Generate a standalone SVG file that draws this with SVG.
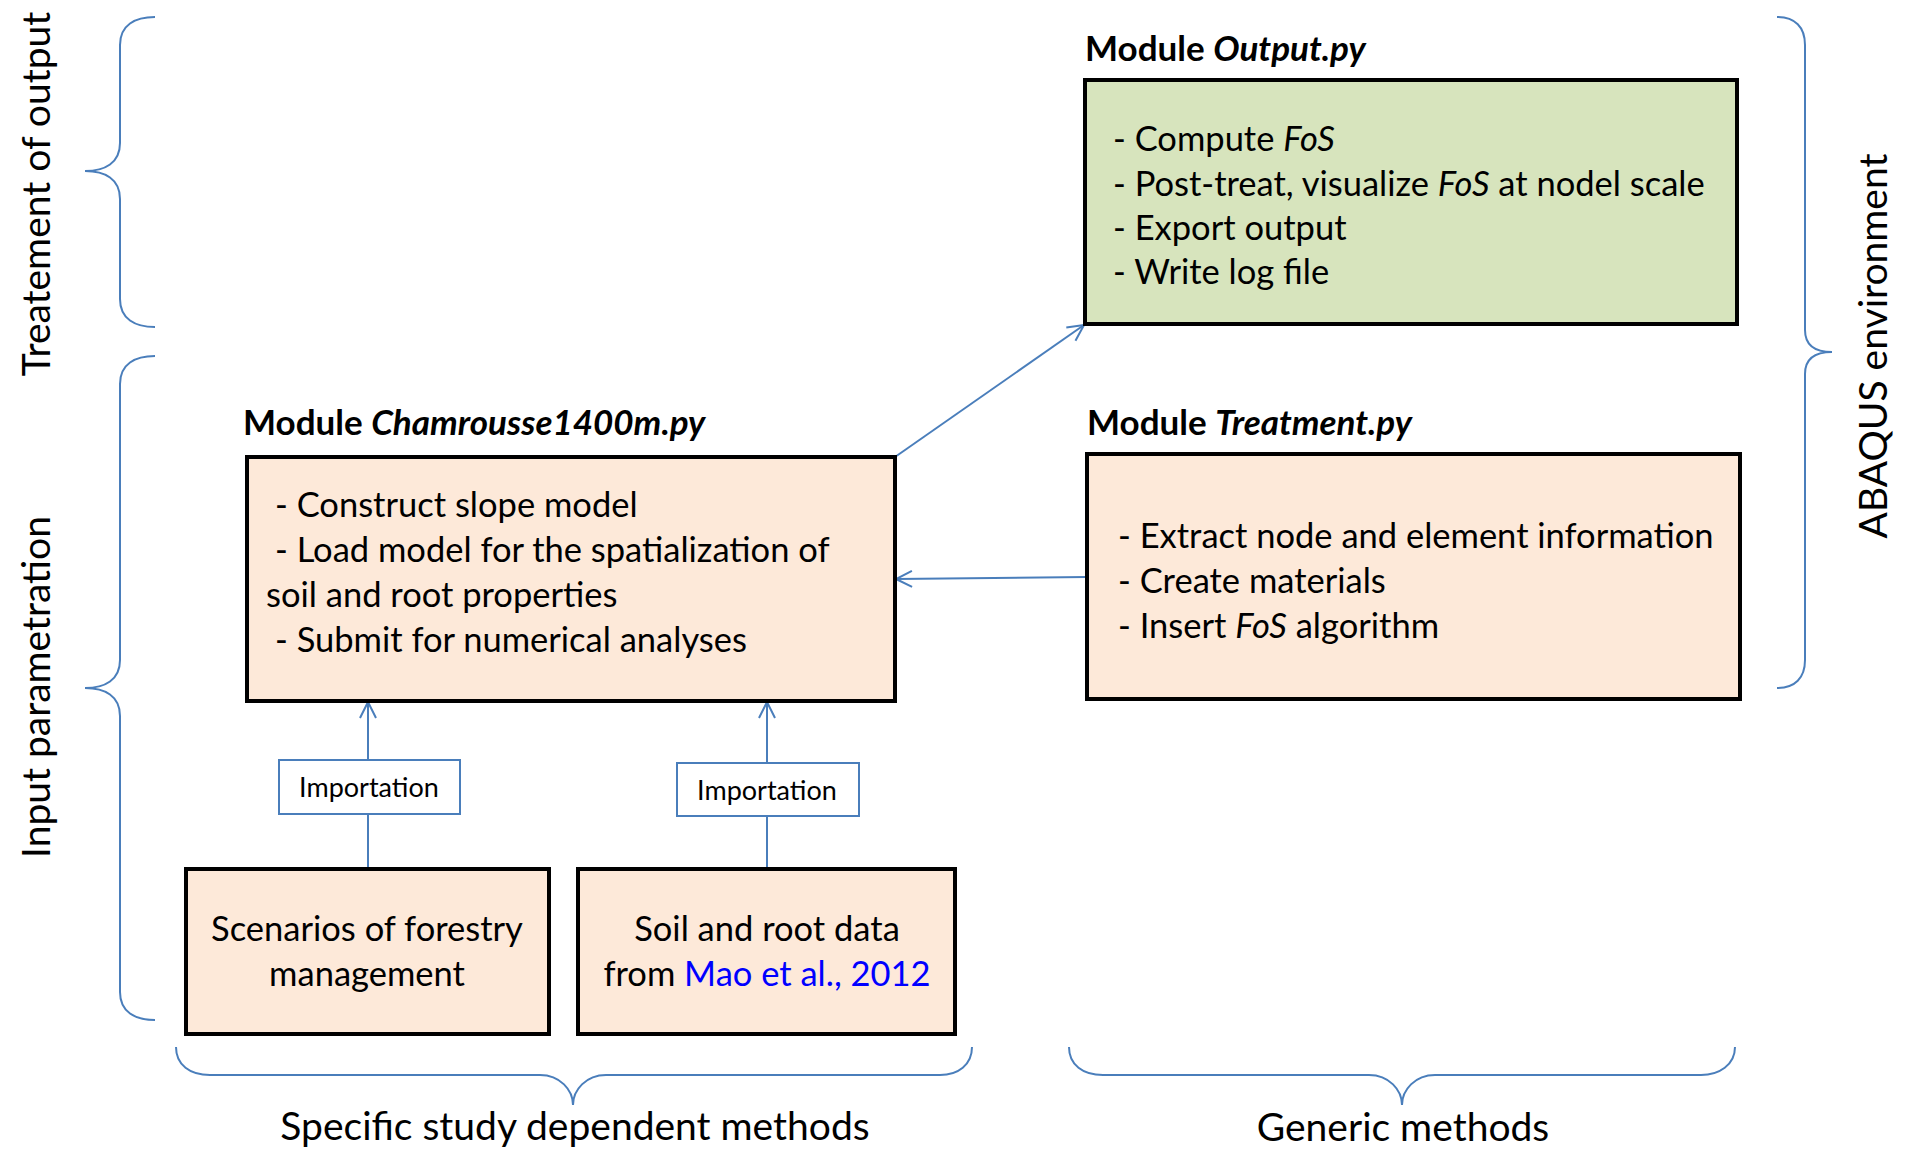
<svg xmlns="http://www.w3.org/2000/svg" width="1905" height="1151" viewBox="0 0 1905 1151">
<style>
.t{font-family:Lato,"Liberation Sans",sans-serif;fill:#000}
.body{font-size:34.5px}
.title{font-size:35px;font-weight:bold}
.side{font-size:39px}
.imp{font-size:27px}
.box{stroke:#000;stroke-width:4}
.peach{fill:#fde9d9}
.green{fill:#d7e4bd}
.ibox{fill:#fff;stroke:#4a7ebb;stroke-width:2}
.br{fill:none;stroke:#4a7ebb;stroke-width:2}
.c{fill:none;stroke:#4a7ebb;stroke-width:2}
</style>
<defs>
<marker id="arr" viewBox="0 0 20 20" refX="18" refY="10" markerWidth="20" markerHeight="20" markerUnits="userSpaceOnUse" orient="auto">
<path d="M2,2 L18,10 L2,18" fill="none" stroke="#4a7ebb" stroke-width="2"/>
</marker>
</defs>

<g id="braces">
<path class="br" d="M155,17 C135,17 120,25 120,45 L120,143 C120,163 105,171 85,171 C105,171 120,179 120,199 L120,299 C120,319 135,327 155,327"/>
<path class="br" d="M155,356 C135,356 120,364 120,384 L120,660 C120,680 105,688 85,688 C105,688 120,696 120,716 L120,992 C120,1012 135,1020 155,1020"/>
<path class="br" d="M1777,17 C1795,17 1805,27 1805,45 L1805,330 C1805,345 1815,352 1832,352 C1815,352 1805,359 1805,374 L1805,660 C1805,678 1795,688 1777,688"/>
<path class="br" d="M176,1047 C176,1065 190,1075 210,1075 L540,1075 C560,1075 573,1090 573,1105 C573,1090 586,1075 606,1075 L940,1075 C958,1075 972,1065 972,1047"/>
<path class="br" d="M1069,1047 C1069,1065 1083,1075 1103,1075 L1369,1075 C1389,1075 1402,1090 1402,1105 C1402,1090 1415,1075 1435,1075 L1701,1075 C1719,1075 1735,1065 1735,1047"/>
</g>

<g id="labels">
<text class="t side" text-anchor="middle" transform="translate(50,194) rotate(-90)">Treatement of output</text>
<text class="t side" text-anchor="middle" transform="translate(50,687) rotate(-90)">Input parametration</text>
<text class="t side" text-anchor="middle" transform="translate(1887,346) rotate(-90)">ABAQUS environment</text>
<text class="t side" text-anchor="middle" x="575" y="1140">Specific study dependent methods</text>
<text class="t side" text-anchor="middle" x="1403" y="1141">Generic methods</text>
</g>

<g id="connectors">
<line class="c" x1="368" y1="869" x2="368" y2="814"/>
<line class="c" x1="368" y1="760" x2="368" y2="702" marker-end="url(#arr)"/>
<line class="c" x1="767" y1="869" x2="767" y2="816"/>
<line class="c" x1="767" y1="763" x2="767" y2="702" marker-end="url(#arr)"/>
<line class="c" x1="895" y1="457" x2="1084" y2="325" marker-end="url(#arr)"/>
<line class="c" x1="1087" y1="577" x2="896" y2="579" marker-end="url(#arr)"/>
</g>

<g id="output">
<text class="t title" x="1085" y="61">Module <tspan font-style="italic">Output.py</tspan></text>
<rect class="box green" x="1085" y="80" width="652" height="244"/>
<text class="t body" x="1113" y="151">- Compute <tspan font-style="italic">FoS</tspan></text>
<text class="t body" x="1113" y="196">- Post-treat, visualize <tspan font-style="italic">FoS</tspan> at nodel scale</text>
<text class="t body" x="1113" y="240">- Export output</text>
<text class="t body" x="1113" y="284">- Write log file</text>
</g>

<g id="treatment">
<text class="t title" x="1087" y="435">Module <tspan font-style="italic">Treatment.py</tspan></text>
<rect class="box peach" x="1087" y="454" width="653" height="245"/>
<text class="t body" x="1118" y="548">- Extract node and element information</text>
<text class="t body" x="1118" y="593">- Create materials</text>
<text class="t body" x="1118" y="638">- Insert <tspan font-style="italic">FoS</tspan> algorithm</text>
</g>

<g id="chamrousse">
<text class="t title" x="243" y="435">Module <tspan font-style="italic">Chamrousse1400m.py</tspan></text>
<rect class="box peach" x="247" y="457" width="648" height="244"/>
<text class="t body" x="275" y="517">- Construct slope model</text>
<text class="t body" x="275" y="562">- Load model for the spatialization of</text>
<text class="t body" x="266" y="607">soil and root properties</text>
<text class="t body" x="275" y="652">- Submit for numerical analyses</text>
</g>

<g id="importation1">
<rect class="ibox" x="279" y="760" width="181" height="54"/>
<text class="t imp" text-anchor="middle" x="369" y="797">Importation</text>
</g>

<g id="importation2">
<rect class="ibox" x="677" y="763" width="182" height="53"/>
<text class="t imp" text-anchor="middle" x="767" y="800">Importation</text>
</g>

<g id="scenarios">
<rect class="box peach" x="186" y="869" width="363" height="165"/>
<text class="t body" text-anchor="middle" x="367" y="941">Scenarios of forestry</text>
<text class="t body" text-anchor="middle" x="367" y="986">management</text>
</g>

<g id="soil">
<rect class="box peach" x="578" y="869" width="377" height="165"/>
<text class="t body" text-anchor="middle" x="767" y="941">Soil and root data</text>
<text class="t body" text-anchor="middle" x="767" y="986">from <tspan fill="#0000ff">Mao et al., 2012</tspan></text>
</g>
</svg>
